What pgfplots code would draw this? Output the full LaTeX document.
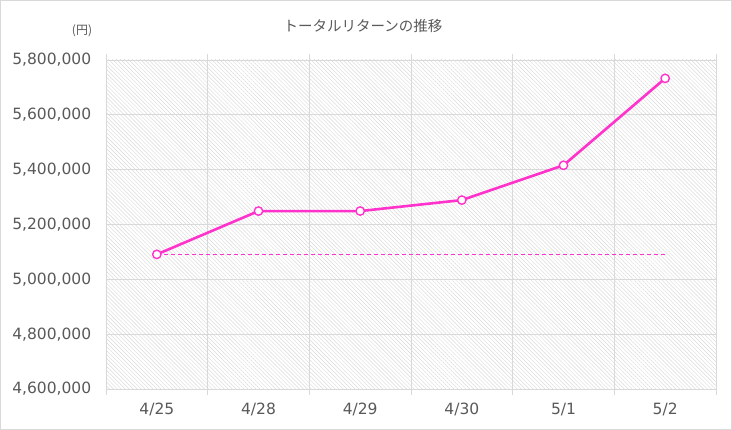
\documentclass[border=0pt]{standalone}
\usepackage{pgfplots}
\pgfplotsset{compat=1.18}
\usepackage{fontspec}
\setmainfont{Noto Sans CJK JP}
\newfontfamily\latin{DejaVu Sans}
\usetikzlibrary{patterns.meta}
\definecolor{linecol}{HTML}{FF33CC}
\definecolor{txt}{HTML}{595959}
\definecolor{gridc}{HTML}{D9D9D9}
\begin{document}
\begin{tikzpicture}
\begin{axis}[
    scale only axis,
    width=610bp, height=329bp,
    xmin=-0.5, xmax=5.5,
    ymin=4600000, ymax=5800000,
    xtick={0,1,2,3,4,5},
    xticklabels={4/25,4/28,4/29,4/30,5/1,5/2},
    minor xtick={-0.5,0.5,1.5,2.5,3.5,4.5,5.5},
    xminorgrids=true,
    major x tick style={draw=none},
    minor tick length=6bp,
    x tick style={gridc, line width=0.8bp},
    tick align=outside,
    ytick={4600000,4800000,5000000,5200000,5400000,5600000,5800000},
    ymajorgrids=true,
    y tick style={draw=none},
    scaled y ticks=false,
    /pgf/number format/.cd, fixed, 1000 sep={,}, assume math mode=true,
    /pgfplots/.cd,
    grid style={gridc, line width=0.8bp},
    minor grid style={gridc, line width=0.8bp},
    axis line style={gridc, line width=0.8bp},
    tick label style={txt, font=\latin\fontsize{15.5bp}{18bp}\selectfont},
    yticklabel style={xshift=-7bp},
    xticklabel style={yshift=-6bp},
    axis background/.style={pattern={Lines[angle=-45, distance=2.8bp, line width=0.45bp]}, pattern color=gray!30},
    clip=false,
]
\addplot[linecol, line width=0.9bp, dash pattern=on 4bp off 3bp] coordinates {
    (0,5090000) (5,5090000)
};
\addplot[linecol, line width=2.6bp, mark=*, mark size=4.2bp,
    mark options={fill=white, draw=linecol, line width=1.4bp, solid}] coordinates {
    (0,5091000) (1,5249000) (2,5249000) (3,5289000) (4,5416000) (5,5733000)
};
\end{axis}
\node[txt, font=\fontsize{14.5bp}{17bp}\selectfont] at (257bp,363bp) {トータルリターンの推移};
\node[txt, font=\fontsize{12bp}{14bp}\selectfont] at (-24bp,358bp) {({\latin}円{\latin})};
\draw[gridc, line width=1.2bp] (-105.4bp,-40.4bp) rectangle (625.4bp,388.4bp);
\end{tikzpicture}
\end{document}
